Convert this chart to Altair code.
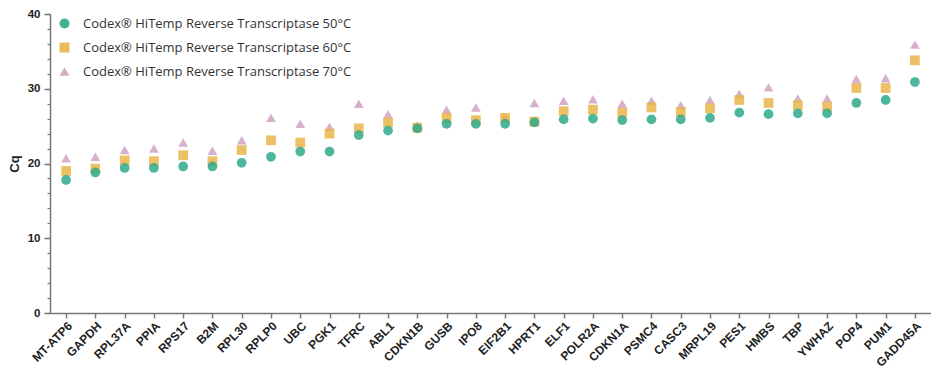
import altair as alt
import pandas as pd

genes = ["MT-ATP6", "GAPDH", "RPL37A", "PPIA", "RPS17", "B2M", "RPL30", "RPLP0",
         "UBC", "PGK1", "TFRC", "ABL1", "CDKN1B", "GUSB", "IPO8", "EIF2B1", "HPRT1",
         "ELF1", "POLR2A", "CDKN1A", "PSMC4", "CASC3", "MRPL19", "PES1", "HMBS",
         "TBP", "YWHAZ", "POP4", "PUM1", "GADD45A"]

cq50 = [17.8, 18.8, 19.4, 19.4, 19.6, 19.6, 20.1, 20.9, 21.6, 21.6, 23.8, 24.4,
        24.7, 25.3, 25.3, 25.3, 25.5, 25.9, 26.0, 25.8, 25.9, 25.9, 26.1, 26.8,
        26.6, 26.7, 26.7, 28.1, 28.5, 30.9]
cq60 = [19.0, 19.3, 20.4, 20.3, 21.1, 20.3, 21.8, 23.1, 22.8, 24.0, 24.7, 25.5,
        24.8, 26.1, 25.8, 26.1, 25.6, 27.0, 27.2, 26.8, 27.5, 26.9, 27.4, 28.5,
        28.1, 27.8, 27.6, 30.1, 30.1, 33.8]
cq70 = [20.7, 20.9, 21.8, 22.0, 22.8, 21.7, 23.1, 26.1, 25.3, 24.9, 28.0, 26.6,
        25.1, 27.2, 27.5, 26.2, 28.1, 28.4, 28.6, 28.0, 28.4, 27.8, 28.5, 29.3,
        30.2, 28.7, 28.7, 31.3, 31.4, 35.9]

series = ["Codex® HiTemp Reverse Transcriptase 50°C",
          "Codex® HiTemp Reverse Transcriptase 60°C",
          "Codex® HiTemp Reverse Transcriptase 70°C"]
colors = ["#2fa98c", "#eab54a", "#cfa3c4"]
shapes = ["circle", "square", "triangle-up"]

major_ticks = [0, 10, 20, 30, 40]
minor_ticks = list(range(0, 41, 2))

rows = []
for s, vals in [(series[2], cq70), (series[1], cq60), (series[0], cq50)]:
    for g, v in zip(genes, vals):
        rows.append({"gene": g, "cq": v, "series": s})
df = pd.DataFrame(rows)

label_font = "Liberation Sans"
axis_color = "#777"

x_enc = alt.X("gene:N", sort=genes, title=None,
              scale=alt.Scale(type="point", padding=0.55),
              axis=alt.Axis(labelAngle=-45, labelFont=label_font, labelFontWeight="bold",
                            labelFontSize=12, labelColor="#222", tickSize=5,
                            tickColor=axis_color, domainColor=axis_color, domainWidth=1.5,
                            tickWidth=1.5, labelPadding=2))

points = alt.Chart(df).mark_point(filled=True, size=95, opacity=0.85).encode(
    x=x_enc,
    y=alt.Y("cq:Q", title="Cq",
            scale=alt.Scale(domain=[0, 40], nice=False),
            axis=alt.Axis(values=major_ticks, orient="left", tickSize=6,
                          labelFont=label_font, labelFontWeight="bold", labelFontSize=11.5,
                          labelColor="#222", tickColor=axis_color, domainColor=axis_color,
                          domainWidth=1.5, tickWidth=1.5, grid=False, labelPadding=4,
                          titleFont=label_font, titleFontWeight="bold", titleFontSize=13,
                          titleColor="#222", titlePadding=6)),
    color=alt.Color("series:N", scale=alt.Scale(domain=series, range=colors),
                    legend=alt.Legend(orient="none", legendX=8, legendY=3, title=None,
                                      labelFont="Open Sans", labelFontSize=13,
                                      labelColor="#333", symbolSize=100,
                                      rowPadding=10, labelOffset=12,
                                      symbolOpacity=0.9, labelLimit=400)),
    shape=alt.Shape("series:N", scale=alt.Scale(domain=series, range=shapes), legend=None),
)

minor = alt.Chart(df).mark_point(opacity=0).encode(
    x=x_enc,
    y=alt.Y("cq:Q", scale=alt.Scale(domain=[0, 40], nice=False),
            axis=alt.Axis(values=minor_ticks, orient="left", tickSize=3, labels=False,
                          domain=False, title=None, grid=False, tickColor=axis_color,
                          tickWidth=1.2)),
)

chart = alt.layer(points, minor).resolve_axis(y="independent").properties(
    width=881, height=299,
    padding={"left": 0, "right": 0, "top": 0, "bottom": 0},
).configure_view(stroke=None)

chart.save("out.html", embed_options={"renderer": "svg", "actions": False})
